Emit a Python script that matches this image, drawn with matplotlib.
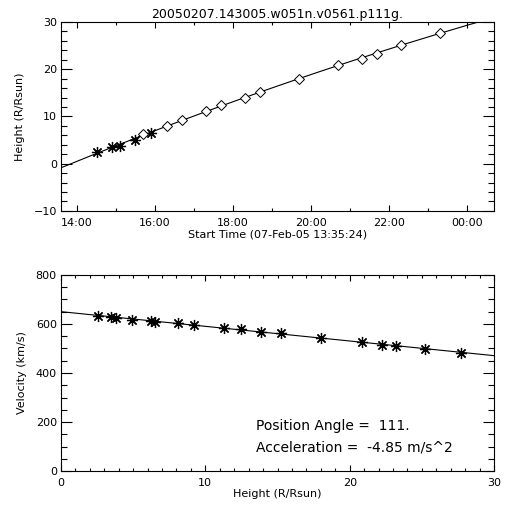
import numpy as np
import matplotlib
matplotlib.use("Agg")
import matplotlib.pyplot as plt
from matplotlib.ticker import MultipleLocator, FuncFormatter

# C2 (asterisk) and C3 (diamond) height-time points
c2_times = ["14:31", "14:54", "15:06", "15:30", "15:54"]
c2_heights = [2.58, 3.46, 3.81, 4.94, 6.51]
c3_times = ["15:42", "16:18", "16:42", "17:18", "17:42", "18:18", "18:42",
            "19:42", "20:42", "21:18", "21:42", "22:18", "23:18"]
c3_heights = [6.23, 8.08, 9.23, 11.26, 12.49, 13.87, 15.25,
              17.98, 20.86, 22.27, 23.24, 25.22, 27.69]

# velocity vs height
vel_heights = [2.58, 3.46, 3.81, 4.94, 6.23, 6.51, 8.08, 9.23, 11.26,
               12.49, 13.87, 15.25, 17.98, 20.86, 22.27, 23.24, 25.22, 27.69]
velocities = [634, 629, 625, 616, 611, 610, 604, 597, 585,
              581, 569, 563, 543, 528, 514, 509, 498, 482]

title = "20050207.143005.w051n.v0561.p111g."
start_time = "13:35:24"
pos_angle = "111."
accel = "-4.85"


def to_hours(s):
    p = [int(v) for v in s.split(":")]
    h = p[0] + p[1] / 60.0
    if len(p) > 2:
        h += p[2] / 3600.0
    return h


t2 = np.array([to_hours(s) for s in c2_times])
t3 = np.array([to_hours(s) for s in c3_times])
t0 = to_hours(start_time)

plt.rcParams['font.family'] = 'DejaVu Sans'
plt.rcParams['font.size'] = 8

fig = plt.figure(figsize=(5.12, 5.12), dpi=100)
ax1 = fig.add_axes([0.119, 0.588, 0.846, 0.369])
ax2 = fig.add_axes([0.119, 0.080, 0.846, 0.383])

# --- height vs time
tall = np.concatenate([t2, t3])
hall = np.concatenate([c2_heights, c3_heights])
coef = np.polyfit(tall, hall, 2)
xlim = (t0, t0 + 11.1)
tt = np.linspace(xlim[0], xlim[1], 300)
ax1.plot(tt, np.polyval(coef, tt), color='k', lw=0.8)
ax1.plot(t2, c2_heights, ls='none', marker=(8, 2, 0), ms=8, mew=0.9, color='k')
ax1.plot(t3, c3_heights, ls='none', marker='D', ms=5, mew=0.7,
         mfc='white', mec='k')
ax1.set_xlim(xlim)
ax1.set_ylim(-10, 30)
ax1.xaxis.set_major_locator(MultipleLocator(2))
ax1.xaxis.set_minor_locator(MultipleLocator(1))
ax1.xaxis.set_major_formatter(FuncFormatter(lambda v, p: "%02d:00" % (int(round(v)) % 24)))
ax1.yaxis.set_major_locator(MultipleLocator(10))
ax1.yaxis.set_minor_locator(MultipleLocator(2))
ax1.set_title(title, fontsize=9, pad=3)
ax1.set_xlabel("Start Time (07-Feb-05 13:35:24)", labelpad=1)
ax1.set_ylabel("Height (R/Rsun)", labelpad=6)

# --- velocity vs height
vc = np.polyfit(vel_heights, velocities, 1)
hh = np.linspace(0, 30, 50)
ax2.plot(hh, np.polyval(vc, hh), color='k', lw=0.8)
ax2.plot(vel_heights, velocities, ls='none', marker=(8, 2, 0), ms=8, mew=0.9, color='k')
ax2.set_xlim(0, 30)
ax2.set_ylim(0, 800)
ax2.xaxis.set_major_locator(MultipleLocator(10))
ax2.xaxis.set_minor_locator(MultipleLocator(1))
ax2.yaxis.set_major_locator(MultipleLocator(200))
ax2.yaxis.set_minor_locator(MultipleLocator(50))
ax2.set_xlabel("Height (R/Rsun)", labelpad=1)
ax2.set_ylabel("Velocity (km/s)", labelpad=6)
ax2.text(0.45, 0.23, "Position Angle =  " + pos_angle, transform=ax2.transAxes,
         fontsize=10, va='center')
ax2.text(0.45, 0.12, "Acceleration =  " + accel + " m/s^2", transform=ax2.transAxes,
         fontsize=10, va='center')

for ax in (ax1, ax2):
    for s in ax.spines.values():
        s.set_linewidth(0.8)
    ax.tick_params(which='both', direction='in', top=True, right=True, width=0.8)
    ax.tick_params(axis='x', which='major', length=4, pad=5)
    ax.tick_params(axis='x', which='minor', length=2.5)
    ax.tick_params(axis='y', which='major', length=8, pad=3)
    ax.tick_params(axis='y', which='minor', length=4)

fig.savefig("out.png", dpi=100)
